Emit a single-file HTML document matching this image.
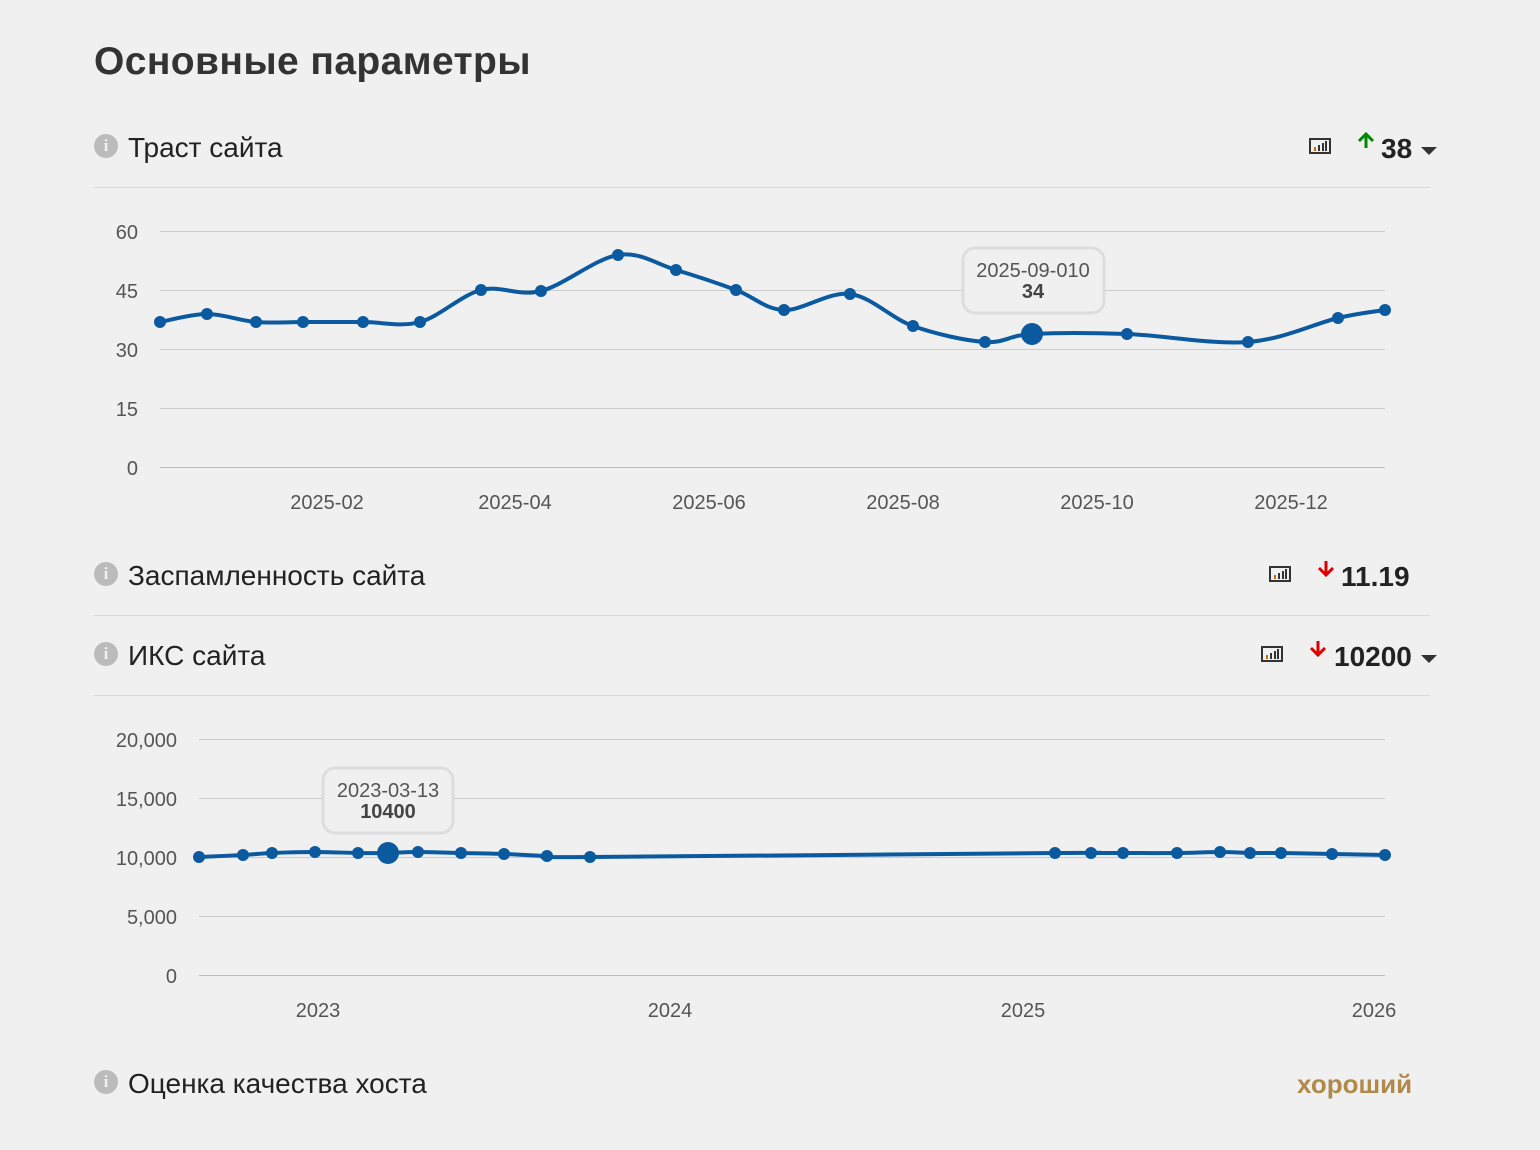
<!DOCTYPE html>
<html><head><meta charset="utf-8"><style>
body{margin:0;width:1540px;height:1150px;background:#f0f0f0;font-family:"Liberation Sans",sans-serif;position:relative;overflow:hidden;color:#333}
.a{position:absolute;white-space:nowrap}
h1{position:absolute;left:94px;top:40px;margin:0;font-size:39px;font-weight:bold;color:#333;letter-spacing:0.4px}
.lbl{font-size:28px;color:#222}
.info{position:absolute;width:24px;height:24px;border-radius:50%;background:#bbb;color:#f0f0f0;font:bold 17px "Liberation Serif",serif;text-align:center;line-height:24px}
.hr{position:absolute;left:94px;width:1336px;height:1px;background:#d8d8d8}
.val{font-size:28px;font-weight:bold;color:#222}
.tri{position:absolute;width:0;height:0;border-left:8px solid transparent;border-right:8px solid transparent;border-top:8px solid #333}
</style></head><body>
<h1>Основные параметры</h1>

<div class="info" style="left:94px;top:134px">i</div>
<div class="a lbl" style="left:128px;top:132px">Траст сайта</div>
<div class="a val" style="left:1381px;top:133px">38</div>
<div class="tri" style="left:1421px;top:147px"></div>
<div class="hr" style="top:187px"></div>

<div class="info" style="left:94px;top:562px">i</div>
<div class="a lbl" style="left:128px;top:560px">Заспамленность сайта</div>
<div class="a val" style="left:1341px;top:561px">11.19</div>
<div class="hr" style="top:615px"></div>

<div class="info" style="left:94px;top:642px">i</div>
<div class="a lbl" style="left:128px;top:640px">ИКС сайта</div>
<div class="a val" style="left:1334px;top:641px">10200</div>
<div class="tri" style="left:1421px;top:655px"></div>
<div class="hr" style="top:695px"></div>

<div class="info" style="left:94px;top:1070px">i</div>
<div class="a lbl" style="left:128px;top:1068px">Оценка качества хоста</div>
<div class="a" style="left:1297px;top:1069px;font-size:26px;font-weight:bold;color:#b08a4a">хороший</div>

<svg width="1540" height="1150" style="position:absolute;left:0;top:0" id="s">
<g stroke-width="3" fill="none">
<path d="M1366 148 V134 M1359 141 L1366 134 L1373 141" stroke="#080"/>
<path d="M1326 561 V575 M1319 568 L1326 575 L1333 568" stroke="#d00"/>
<path d="M1318 641 V655 M1311 648 L1318 655 L1325 648" stroke="#d00"/>
</g>
<g id="icons" fill="none" stroke="#333" stroke-width="2">
<rect x="1310" y="139" width="20" height="14"/><rect x="1270" y="567" width="20" height="14"/><rect x="1262" y="647" width="20" height="14"/>
</g>
<g stroke="#ccc" stroke-width="1">
<line x1="160" x2="1385" y1="231.5" y2="231.5"/><line x1="160" x2="1385" y1="290.5" y2="290.5"/><line x1="160" x2="1385" y1="349.5" y2="349.5"/><line x1="160" x2="1385" y1="408.5" y2="408.5"/><line x1="160" x2="1385" y1="467.5" y2="467.5" stroke="#bbb"/>
<line x1="199" x2="1385" y1="739.5" y2="739.5"/><line x1="199" x2="1385" y1="798.5" y2="798.5"/><line x1="199" x2="1385" y1="857.5" y2="857.5"/><line x1="199" x2="1385" y1="916.5" y2="916.5"/><line x1="199" x2="1385" y1="975.5" y2="975.5" stroke="#bbb"/>
</g>
<g font-family="Liberation Sans" font-size="20" fill="#555" text-anchor="end">
<text x="138" y="239">60</text><text x="138" y="298">45</text><text x="138" y="357">30</text><text x="138" y="416">15</text><text x="138" y="475">0</text>
<text x="177" y="747">20,000</text><text x="177" y="806">15,000</text><text x="177" y="865">10,000</text><text x="177" y="924">5,000</text><text x="177" y="983">0</text>
</g>
<g font-family="Liberation Sans" font-size="20" fill="#555" text-anchor="middle">
<text x="327" y="509">2025-02</text><text x="515" y="509">2025-04</text><text x="709" y="509">2025-06</text><text x="903" y="509">2025-08</text><text x="1097" y="509">2025-10</text><text x="1291" y="509">2025-12</text>
<text x="318" y="1017">2023</text><text x="670" y="1017">2024</text><text x="1023" y="1017">2025</text><text x="1374" y="1017">2026</text>
</g>
<g id="c"></g>
<rect x="963" y="248" width="141" height="65" rx="12" fill="#f0f0f0" stroke="#ddd" stroke-width="3"/>
<text x="1033" y="277" font-family="Liberation Sans" font-size="20" fill="#555" text-anchor="middle">2025-09-010</text>
<text x="1033" y="298" font-family="Liberation Sans" font-size="20" font-weight="bold" fill="#444" text-anchor="middle">34</text>
<rect x="323" y="768" width="130" height="65" rx="12" fill="#f0f0f0" stroke="#ddd" stroke-width="3"/>
<text x="388" y="797" font-family="Liberation Sans" font-size="20" fill="#555" text-anchor="middle">2023-03-13</text>
<text x="388" y="818" font-family="Liberation Sans" font-size="20" font-weight="bold" fill="#444" text-anchor="middle">10400</text>
</svg>
<script>
function draw(p,big){var g=document.getElementById('c'),ns='http://www.w3.org/2000/svg';
var d='M'+p[0][0]+','+p[0][1];
for(var i=0;i<p.length-1;i++){var p0=p[i-1]||p[i],p1=p[i],p2=p[i+1],p3=p[i+2]||p2;
d+=' C'+(p1[0]+(p2[0]-p0[0])/6)+','+(p1[1]+(p2[1]-p0[1])/6)+' '+(p2[0]-(p3[0]-p1[0])/6)+','+(p2[1]-(p3[1]-p1[1])/6)+' '+p2[0]+','+p2[1];}
var path=document.createElementNS(ns,'path');path.setAttribute('d',d);path.setAttribute('fill','none');path.setAttribute('stroke','#0b5aa0');path.setAttribute('stroke-width','4');g.appendChild(path);
p.forEach(function(q,i){var c=document.createElementNS(ns,'circle');c.setAttribute('cx',q[0]);c.setAttribute('cy',q[1]);c.setAttribute('r',i==big?11:6);c.setAttribute('fill','#0b5aa0');g.appendChild(c);});}
draw([[160,322],[207,314],[256,322],[303,322],[363,322],[420,322],[481,290],[541,291],[618,255],[676,270],[736,290],[784,310],[850,294],[913,326],[985,342],[1032,334],[1127,334],[1248,342],[1338,318],[1385,310]],15);
draw([[199,857],[243,855],[272,853],[315,852],[358,853],[388,853],[418,852],[461,853],[504,854],[547,856],[590,857],[1055,853],[1091,853],[1123,853],[1177,853],[1220,852],[1250,853],[1281,853],[1332,854],[1385,855]],5);
var ic=document.getElementById('icons');
[[1310,139],[1270,567],[1262,647]].forEach(function(o){[[5,4],[9,6],[13,8],[16,10]].forEach(function(b){var l=document.createElementNS('http://www.w3.org/2000/svg','line');l.setAttribute('x1',o[0]+b[0]);l.setAttribute('x2',o[0]+b[0]);l.setAttribute('y1',o[1]+12);l.setAttribute('y2',o[1]+12-b[1]);l.setAttribute('stroke',b[0]==5?'#c60':'#333');ic.appendChild(l);});});
</script>
</body></html>
